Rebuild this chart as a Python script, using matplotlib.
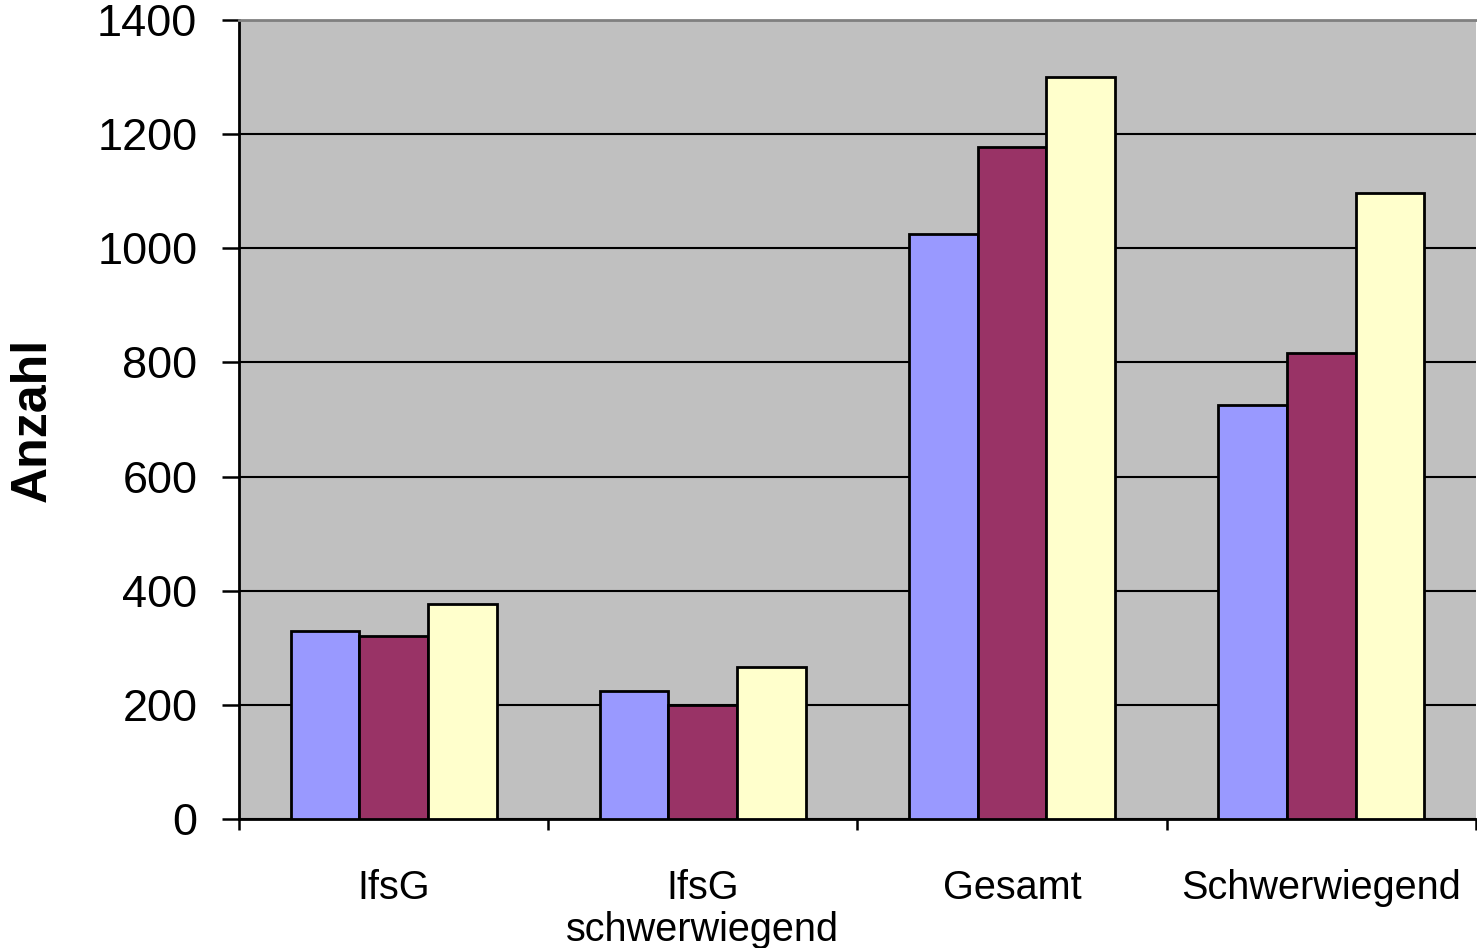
import numpy as np
import matplotlib.pyplot as plt

plt.rcParams['font.family'] = ['Liberation Sans', 'DejaVu Sans']

# Counts per category, three series
categories = ['IfsG', 'IfsG\nschwerwiegend', 'Gesamt', 'Schwerwiegend']
series_a = [330, 225, 1025, 726]
series_b = [320, 200, 1178, 817]
series_c = [376, 267, 1301, 1097]
colors = ['#9999FF', '#993366', '#FFFFCC']

fig = plt.figure(figsize=(14.77, 9.48), dpi=100)
ax = fig.add_axes([0.1618, 0.1361, 0.8375, 0.8428])

x = np.arange(len(categories))
w = 1 / 4.5
for i, (vals, c) in enumerate(zip([series_a, series_b, series_c], colors)):
    ax.bar(x + (i - 1) * w, vals, width=w, color=c, edgecolor='black',
           linewidth=2.0, zorder=3)

# Plot area styling
ax.set_facecolor('#C0C0C0')
ax.set_ylim(0, 1400)
ax.set_xlim(-0.5, len(categories) - 0.5)
ax.set_yticks(np.arange(0, 1401, 200))
ax.yaxis.grid(True, color='black', linewidth=1.5, zorder=1)
ax.set_axisbelow(True)

ax.spines['left'].set_linewidth(2.0)
ax.spines['bottom'].set_linewidth(2.0)
ax.spines['top'].set_color('#808080')
ax.spines['top'].set_linewidth(2.0)
ax.spines['right'].set_visible(False)

# Tick marks on category boundaries, labels centred below groups
ax.set_xticks(np.arange(-0.5, len(categories), 1.0))
ax.set_xticklabels([])
ax.set_xticks(x, minor=True)
ax.set_xticklabels(categories, minor=True, fontsize=28.5, linespacing=1.12)
ax.tick_params(axis='x', which='major', length=8, width=1.8, direction='out')
ax.tick_params(axis='x', which='minor', length=0, pad=36)
ax.tick_params(axis='y', length=12, width=1.8, pad=18, labelsize=32.5)

ax.set_ylabel('Anzahl', fontsize=36, fontweight='bold', labelpad=30)

plt.savefig('out.png', dpi=100)
